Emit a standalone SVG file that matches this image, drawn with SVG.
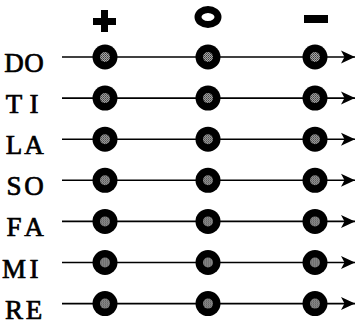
<svg xmlns="http://www.w3.org/2000/svg" width="356" height="325" viewBox="0 0 356 325">
<style>
.lbl{font-family:"Liberation Serif","DejaVu Serif",serif;font-size:27px;fill:#000;stroke:#000;stroke-width:0.7;text-anchor:middle}
.ln{stroke:#000;stroke-width:1.6;fill:none;marker-end:url(#arr)}
.dot{fill:#000}
.core{fill:url(#tone)}
</style>
<defs>
<marker id="arr" markerUnits="userSpaceOnUse" markerWidth="16" markerHeight="14" refX="14" refY="7" orient="auto">
<path d="M14,7 L0,0.5 L3.5,7 L0,13.5 Z" fill="#000"/>
</marker>
<pattern id="tone" width="2" height="2" patternUnits="userSpaceOnUse">
<rect width="2" height="2" fill="#a8a8a8"/>
<rect width="1" height="1" fill="#3a3a3a"/>
<rect x="1" y="1" width="1" height="1" fill="#5a5a5a"/>
</pattern>
<g id="pt"><circle class="dot" r="12.5"/><circle class="core" r="5"/></g>
</defs>

<g id="symbols">
<g id="sym-plus"><rect x="93" y="18" width="23" height="7" fill="#000"/><rect x="101" y="10" width="7" height="22" fill="#000"/></g>
<g id="sym-zero"><ellipse cx="208" cy="17" rx="10" ry="7.5" fill="none" stroke="#000" stroke-width="7"/></g>
<g id="sym-minus"><rect x="304" y="15" width="24" height="8" fill="#000"/></g>
</g>

<g id="connectors">
<line class="ln" x1="62" y1="57" x2="355" y2="57"/>
<line class="ln" x1="62" y1="98.1" x2="355" y2="98.1"/>
<line class="ln" x1="62" y1="139.2" x2="355" y2="139.2"/>
<line class="ln" x1="62" y1="180.3" x2="355" y2="180.3"/>
<line class="ln" x1="62" y1="221.4" x2="355" y2="221.4"/>
<line class="ln" x1="62" y1="262.5" x2="355" y2="262.5"/>
<line class="ln" x1="62" y1="303.6" x2="355" y2="303.6"/>
</g>

<g id="labels">
<g id="lbl-do"><text class="lbl" x="14 34" y="72">DO</text></g>
<g id="lbl-ti"><text class="lbl" x="14 34" y="113.1">TI</text></g>
<g id="lbl-la"><text class="lbl" x="14 34" y="154.2">LA</text></g>
<g id="lbl-so"><text class="lbl" x="14 34" y="195.3">SO</text></g>
<g id="lbl-fa"><text class="lbl" x="14 34" y="236.4">FA</text></g>
<g id="lbl-mi"><text class="lbl" x="14 34" y="277.5">MI</text></g>
<g id="lbl-re"><text class="lbl" x="14 34" y="318.6">RE</text></g>
</g>

<g id="points">
<g id="do-plus"><use href="#pt" x="105" y="57"/></g>
<g id="do-zero"><use href="#pt" x="208" y="57"/></g>
<g id="do-minus"><use href="#pt" x="315" y="57"/></g>
<g id="ti-plus"><use href="#pt" x="105" y="98.1"/></g>
<g id="ti-zero"><use href="#pt" x="208" y="98.1"/></g>
<g id="ti-minus"><use href="#pt" x="315" y="98.1"/></g>
<g id="la-plus"><use href="#pt" x="105" y="139.2"/></g>
<g id="la-zero"><use href="#pt" x="208" y="139.2"/></g>
<g id="la-minus"><use href="#pt" x="315" y="139.2"/></g>
<g id="so-plus"><use href="#pt" x="105" y="180.3"/></g>
<g id="so-zero"><use href="#pt" x="208" y="180.3"/></g>
<g id="so-minus"><use href="#pt" x="315" y="180.3"/></g>
<g id="fa-plus"><use href="#pt" x="105" y="221.4"/></g>
<g id="fa-zero"><use href="#pt" x="208" y="221.4"/></g>
<g id="fa-minus"><use href="#pt" x="315" y="221.4"/></g>
<g id="mi-plus"><use href="#pt" x="105" y="262.5"/></g>
<g id="mi-zero"><use href="#pt" x="208" y="262.5"/></g>
<g id="mi-minus"><use href="#pt" x="315" y="262.5"/></g>
<g id="re-plus"><use href="#pt" x="105" y="303.6"/></g>
<g id="re-zero"><use href="#pt" x="208" y="303.6"/></g>
<g id="re-minus"><use href="#pt" x="315" y="303.6"/></g>
</g>
</svg>
